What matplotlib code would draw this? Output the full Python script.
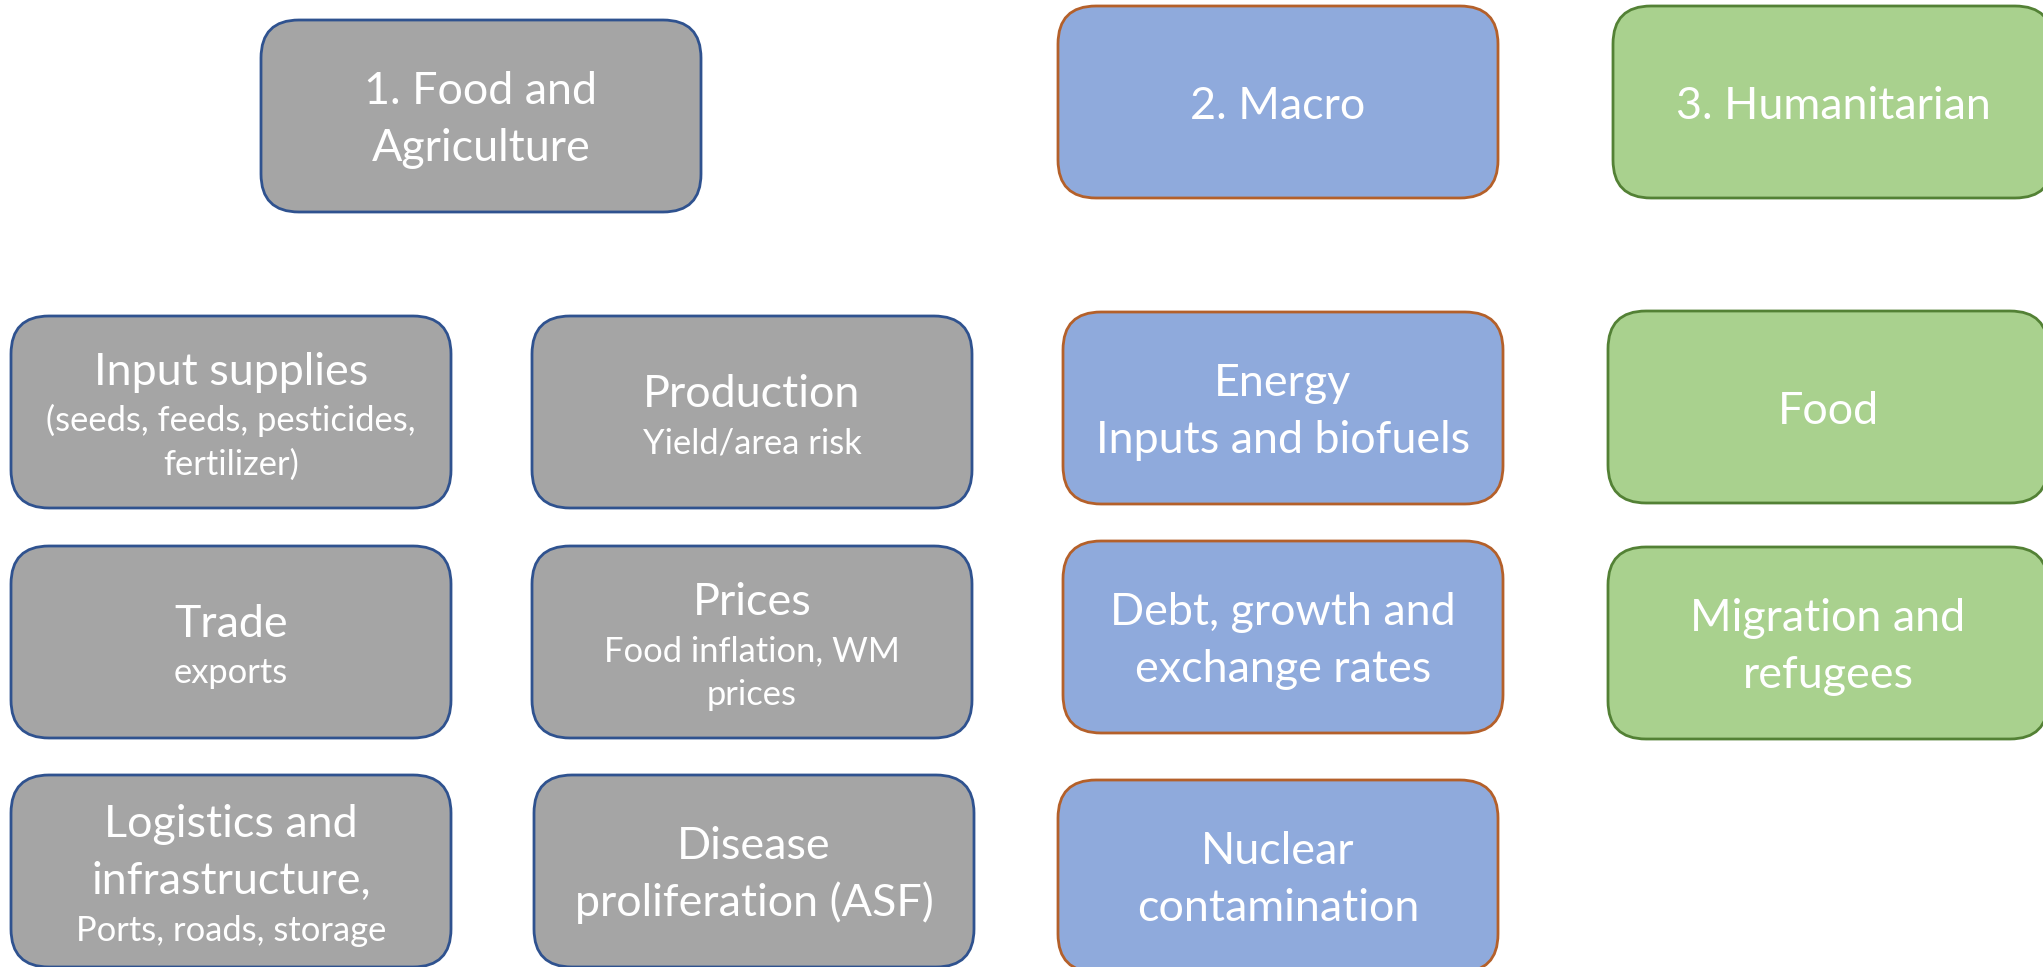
import matplotlib.pyplot as plt
from matplotlib.patches import FancyBboxPatch

# Textos dos blocos (linha principal / linha secundaria)
headers = ['1. Food and\nAgriculture', '2. Macro', '3. Humanitarian']

food_main = ['Input supplies', 'Production', 'Trade', 'Prices',
             'Logistics and\ninfrastructure,', 'Disease\nproliferation (ASF)']
food_sub = ['(seeds, feeds, pesticides,\nfertilizer)', 'Yield/area risk', 'exports',
            'Food inflation, WM\nprices', 'Ports, roads, storage', '']

macro_main = ['Energy\nInputs and biofuels', 'Debt, growth and\nexchange rates',
              'Nuclear\ncontamination']

hum_main = ['Food', 'Migration and\nrefugees']

# Estilos por grupo: (preenchimento, borda)
GRAY = ('#A5A5A5', '#2F528F')
BLUE = ('#8FAADC', '#B4602A')
GREEN = ('#A9D18E', '#538135')

W, H = 440, 192
MAIN_FS, SUB_FS = 32.3, 24.8
MAIN_LH, SUB_LH = 57, 44

plt.rcParams['font.family'] = ['Lato', 'DejaVu Sans']

fig = plt.figure(figsize = (20.43, 9.67), dpi = 100)
ax = fig.add_axes([0, 0, 1, 1])
ax.set_xlim(0, 2043)
ax.set_ylim(967, 0)
ax.axis('off')


def box(x, y, main, sub, style):
    fill, edge = style
    ax.add_patch(FancyBboxPatch((x, y), W, H, boxstyle = 'round,pad=0,rounding_size=38',
                                facecolor = fill, edgecolor = edge, linewidth = 2.0))
    lines = [(s, MAIN_FS, MAIN_LH) for s in main.split('\n') if s]
    lines += [(s, SUB_FS, SUB_LH) for s in sub.split('\n') if s]
    total = sum(l[2] for l in lines)
    top = y + H / 2 - total / 2
    for s, fs, lh in lines:
        ax.text(x + W / 2, top + 0.79 * lh, s, color = 'white', fontsize = fs,
                ha = 'center', va = 'baseline')
        top += lh


# Cabecalhos
head_pos = [(261, 20), (1058, 6), (1613, 6)]
for (x, y), txt, st in zip(head_pos, headers, [GRAY, BLUE, GREEN]):
    box(x, y, txt, '', st)

# Bloco 1: alimentos e agricultura (2 colunas x 3 linhas)
food_pos = [(11, 316), (532, 316), (11, 546), (532, 546), (11, 775), (534, 775)]
for (x, y), m, s in zip(food_pos, food_main, food_sub):
    box(x, y, m, s, GRAY)

# Bloco 2: macro
macro_pos = [(1063, 312), (1063, 541), (1058, 780)]
for (x, y), m in zip(macro_pos, macro_main):
    box(x, y, m, '', BLUE)

# Bloco 3: humanitario
hum_pos = [(1608, 311), (1608, 547)]
for (x, y), m in zip(hum_pos, hum_main):
    box(x, y, m, '', GREEN)

fig.savefig('out.png', dpi = 100)
